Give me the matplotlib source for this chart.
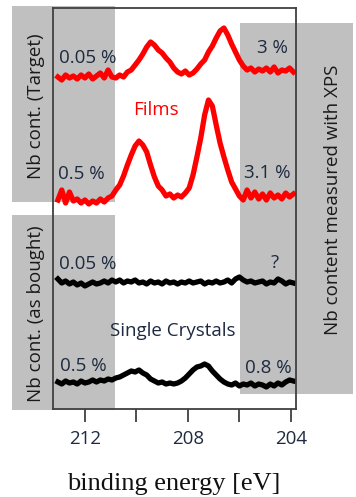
import matplotlib
matplotlib.use("Agg")
import matplotlib.pyplot as plt
from matplotlib.patches import Rectangle
import numpy as np

plt.rcParams['font.family'] = ['Open Sans', 'DejaVu Sans']

# binding energy grid [eV]
energy = [213.05, 212.90, 212.75, 212.60, 212.45, 212.30, 212.15, 212.00, 211.85, 211.70,
          211.55, 211.40, 211.25, 211.10, 210.95, 210.80, 210.65, 210.50, 210.35, 210.20,
          210.05, 209.90, 209.75, 209.60, 209.45, 209.30, 209.15, 209.00, 208.85, 208.70,
          208.55, 208.40, 208.25, 208.10, 207.95, 207.80, 207.65, 207.50, 207.35, 207.20,
          207.05, 206.90, 206.75, 206.60, 206.45, 206.30, 206.15, 206.00, 205.85, 205.70,
          205.55, 205.40, 205.25, 205.10, 204.95, 204.80, 204.65, 204.50, 204.35, 204.20,
          204.05, 203.90]

# stacked intensities (arb. units, offset included)
film_005 = [332, 329, 334, 331, 333, 330, 334, 331, 335, 330, 333, 336, 331, 339, 332, 331,
            334, 332, 337, 339, 344, 349, 355, 362, 367, 364, 359, 356, 351, 347, 341, 337,
            335, 338, 334, 336, 340, 345, 349, 357, 363, 371, 378, 381, 374, 365, 357, 349,
            343, 339, 341, 337, 340, 338, 341, 337, 342, 336, 339, 338, 341, 337]
film_05 = [209, 219, 206, 217, 208, 210, 206, 209, 205, 208, 206, 210, 207, 211, 213, 219,
           224, 233, 244, 254, 263, 268, 264, 257, 244, 232, 223, 219, 213, 215, 211, 214,
           212, 216, 221, 234, 252, 271, 294, 309, 303, 284, 266, 252, 239, 227, 220, 213,
           209, 219, 211, 217, 210, 215, 209, 216, 211, 214, 210, 216, 212, 215]
crystal_005 = [130, 126, 128, 125, 127, 124, 126, 123, 125, 127, 125, 126, 128, 126, 129, 127,
               129, 126, 128, 127, 129, 126, 127, 125, 128, 126, 127, 125, 128, 126, 127, 125,
               127, 126, 128, 126, 127, 128, 125, 127, 126, 128, 126, 127, 129, 126, 130, 132,
               129, 127, 128, 126, 127, 128, 125, 127, 126, 130, 128, 125, 127, 126]
crystal_05 = [27, 25, 28, 26, 27, 25, 28, 26, 27, 29, 27, 29, 28, 30, 29, 31,
              32, 34, 36, 38, 37, 39, 36, 34, 30, 28, 26, 27, 25, 26, 25, 26,
              28, 31, 35, 39, 42, 43, 45, 43, 38, 34, 30, 27, 25, 24, 26, 23,
              25, 24, 26, 23, 25, 24, 22, 25, 23, 26, 24, 27, 29, 28]

tick_positions = [212, 210, 208, 206, 204]
tick_labels = ['212', '', '208', '', '204']

W, H = 356, 497
fig = plt.figure(figsize=(W / 100, H / 100), dpi=100)


def fx(x):
    return x / W


def fy(y):
    return 1 - y / H


gray = '#c0c0c0'
for (x0, y0, x1, y1) in [(12, 6, 115, 202), (12, 215, 115, 410), (240, 23, 353, 394)]:
    fig.add_artist(Rectangle((fx(x0), fy(y1)), fx(x1) - fx(x0), (y1 - y0) / H,
                             transform=fig.transFigure, facecolor=gray,
                             edgecolor='none', zorder=-5))

ax = fig.add_axes([fx(53), fy(409), fx(296) - fx(53), (409 - 8) / H])
ax.set_zorder(1)
ax.patch.set_visible(False)

lw = 3.8
ax.plot(energy, film_005, color='#ff0000', lw=lw, solid_joinstyle='round')
ax.plot(energy, film_05, color='#ff0000', lw=lw, solid_joinstyle='round')
ax.plot(energy, crystal_005, color='#000000', lw=lw, solid_joinstyle='round')
ax.plot(energy, crystal_05, color='#000000', lw=lw, solid_joinstyle='round')

ax.set_xlim(213.24, 203.8)
ax.set_ylim(0, 401)
ax.set_yticks([])
ax.set_xticks(tick_positions)
ax.set_xticklabels(tick_labels)
for s in ax.spines.values():
    s.set_color('#404040')
    s.set_linewidth(1.3)
ax.tick_params(axis='x', direction='out', length=9, width=1.3, color='#404040',
               labelsize=13.5, labelcolor='#1e2a40', pad=6)

txt = '#1e2a40'
fs = 13.5
labels = [
    (59, 63, '0.05 %', 'left', txt),
    (288, 53, '3 %', 'right', txt),
    (133, 115, 'Films', 'left', '#ff0000'),
    (58, 179, '0.5 %', 'left', txt),
    (290, 178, '3.1 %', 'right', txt),
    (59, 269, '0.05 %', 'left', txt),
    (279, 268, '?', 'right', txt),
    (110, 336, 'Single Crystals', 'left', txt),
    (60, 371, '0.5 %', 'left', txt),
    (292, 373, '0.8 %', 'right', txt),
]
for x, y, s, ha, c in labels:
    fig.text(fx(x), fy(y), s, ha=ha, va='baseline', fontsize=fs, color=c)

fig.text(fx(36), fy(106), 'Nb cont. (Target)', rotation=90, ha='center', va='center',
         fontsize=fs, color='#1a1a1a')
fig.text(fx(36), fy(314), 'Nb cont. (as bought)', rotation=90, ha='center', va='center',
         fontsize=fs, color='#1a1a1a')
fig.text(fx(333), fy(200), 'Nb content measured with XPS', rotation=90, ha='center',
         va='center', fontsize=fs, color='#1a1a1a')

fig.text(fx(174), fy(490), 'binding energy [eV]', ha='center', va='baseline',
         fontsize=19, family='Liberation Serif', color='#111111')

fig.savefig('out.png', dpi=100)
